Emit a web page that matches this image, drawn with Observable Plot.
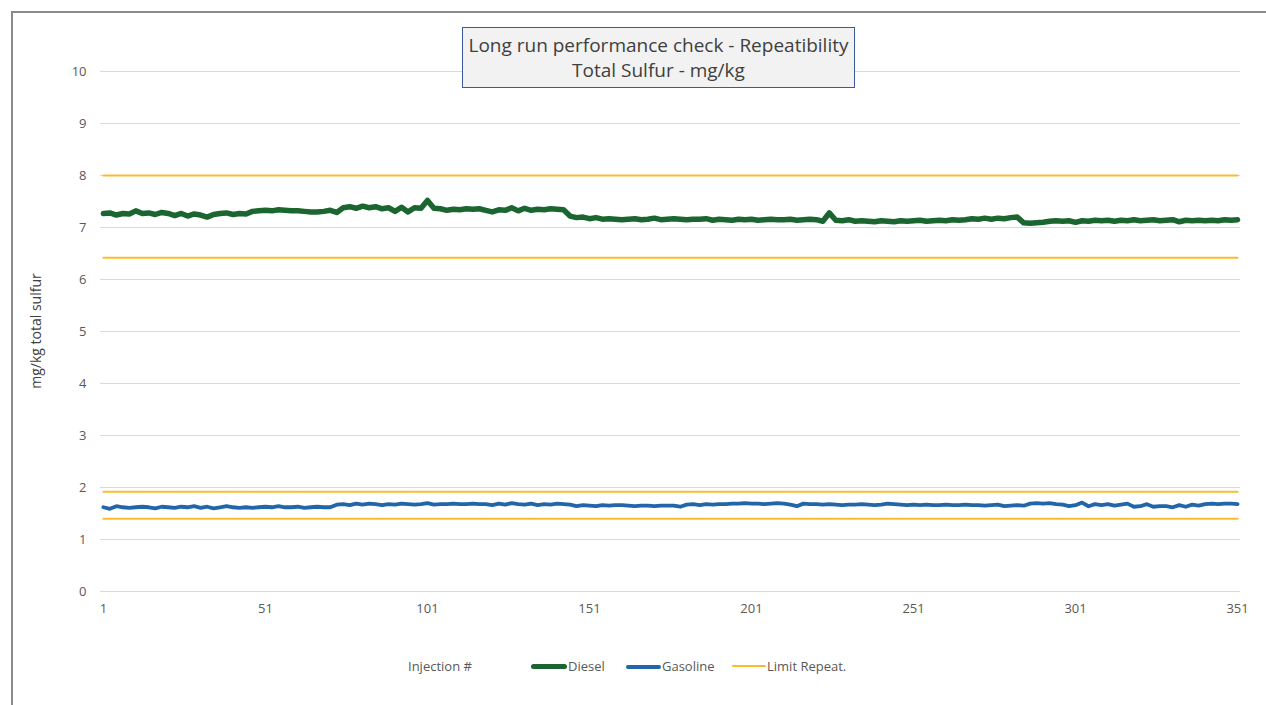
<!DOCTYPE html>
<html>
<head>
<meta charset="utf-8">
<script src="https://cdn.jsdelivr.net/npm/d3@7"></script>
<script src="https://cdn.jsdelivr.net/npm/@observablehq/plot@0.6"></script>
<style>
  html, body { margin: 0; padding: 0; background: #fff; width: 1266px; height: 705px; overflow: hidden; }
  body { position: relative; font-family: "Open Sans", "Liberation Sans", sans-serif; }
  #frame { position: absolute; left: 11px; top: 11px; width: 1300px; height: 750px; border-left: 2px solid #8a8a8a; border-top: 2px solid #8a8a8a; }
  #chart { position: absolute; left: 0; top: 0; }
  #title { position: absolute; left: 462px; top: 27px; width: 393px; height: 61px; background: #f2f2f2; border: 1px solid #3c5a99;
           color: #404040; font-size: 19px; line-height: 25px; text-align: center; padding-top: 5px; box-sizing: border-box; font-family: "Open Sans", sans-serif; }
  #ylabel { position: absolute; left: 35px; top: 331px; transform: translate(-50%, -50%) rotate(-90deg); font-size: 14px; color: #404040; white-space: nowrap; }
  .leg { position: absolute; top: 657px; font-size: 13px; color: #595959; white-space: nowrap; }
  .sw { position: absolute; border-radius: 3px; }
</style>
</head>
<body>
<div id="frame"></div>
<div id="chart"></div>
<div id="title">Long run performance check - Repeatibility<br>Total Sulfur - mg/kg</div>
<div id="ylabel">mg/kg total sulfur</div>
<div class="leg" style="left:408px">Injection #</div>
<div class="sw" style="left:531px; top:664px; width:36px; height:5px; background:#1b6531"></div>
<div class="leg" style="left:568px">Diesel</div>
<div class="sw" style="left:626px; top:665px; width:35px; height:3.5px; background:#2166a8"></div>
<div class="leg" style="left:662px">Gasoline</div>
<div class="sw" style="left:732px; top:665px; width:34px; height:2px; background:#fbbc2b"></div>
<div class="leg" style="left:767px">Limit Repeat.</div>
<script>
// Injection numbers (every 2nd injection, 1..351)
const injections = d3.range(1, 352, 2);

const diesel = [
  7.27,7.28,7.24,7.27,7.26,7.32,7.27,7.28,7.25,7.29,
  7.27,7.23,7.27,7.22,7.26,7.24,7.20,7.25,7.27,7.28,
  7.25,7.27,7.26,7.31,7.32,7.33,7.32,7.34,7.33,7.32,
  7.32,7.31,7.30,7.30,7.31,7.33,7.29,7.38,7.40,7.37,
  7.41,7.38,7.40,7.36,7.38,7.31,7.39,7.30,7.38,7.37,
  7.52,7.37,7.36,7.33,7.35,7.34,7.36,7.35,7.36,7.33,
  7.30,7.34,7.33,7.38,7.32,7.37,7.33,7.35,7.34,7.36,
  7.35,7.34,7.22,7.19,7.20,7.17,7.19,7.16,7.17,7.16,
  7.15,7.16,7.17,7.15,7.16,7.18,7.15,7.16,7.17,7.16,
  7.15,7.16,7.16,7.17,7.14,7.16,7.15,7.14,7.16,7.15,
  7.16,7.14,7.15,7.16,7.15,7.15,7.16,7.14,7.15,7.16,
  7.15,7.12,7.28,7.14,7.13,7.15,7.12,7.13,7.12,7.11,
  7.13,7.12,7.11,7.13,7.12,7.13,7.14,7.12,7.13,7.14,
  7.13,7.15,7.14,7.15,7.17,7.16,7.18,7.16,7.18,7.17,
  7.19,7.20,7.09,7.08,7.09,7.10,7.12,7.13,7.12,7.13,
  7.10,7.13,7.12,7.14,7.13,7.14,7.12,7.14,7.13,7.15,
  7.13,7.14,7.15,7.13,7.14,7.15,7.11,7.14,7.13,7.14,
  7.13,7.14,7.13,7.15,7.14,7.15
];

const gasoline = [
  1.62,1.59,1.64,1.62,1.61,1.62,1.63,1.62,1.60,1.63,
  1.62,1.61,1.63,1.62,1.64,1.61,1.63,1.60,1.62,1.64,
  1.62,1.61,1.62,1.61,1.62,1.63,1.62,1.64,1.62,1.62,
  1.63,1.61,1.62,1.63,1.62,1.62,1.67,1.68,1.66,1.69,
  1.67,1.69,1.68,1.66,1.68,1.67,1.69,1.68,1.67,1.68,
  1.70,1.67,1.68,1.68,1.69,1.68,1.68,1.69,1.68,1.68,
  1.66,1.69,1.67,1.70,1.68,1.67,1.69,1.66,1.68,1.67,
  1.69,1.68,1.67,1.64,1.66,1.65,1.64,1.66,1.65,1.66,
  1.66,1.65,1.64,1.65,1.65,1.64,1.65,1.65,1.65,1.63,
  1.67,1.68,1.66,1.68,1.67,1.68,1.68,1.69,1.69,1.70,
  1.69,1.69,1.68,1.69,1.70,1.69,1.67,1.64,1.69,1.68,
  1.68,1.67,1.68,1.67,1.66,1.67,1.67,1.68,1.67,1.66,
  1.67,1.69,1.68,1.67,1.66,1.67,1.66,1.67,1.66,1.66,
  1.67,1.66,1.66,1.67,1.66,1.66,1.65,1.66,1.67,1.64,
  1.65,1.66,1.65,1.69,1.70,1.69,1.70,1.68,1.67,1.64,
  1.66,1.71,1.64,1.68,1.66,1.68,1.65,1.67,1.69,1.63,
  1.64,1.68,1.63,1.64,1.64,1.62,1.66,1.63,1.67,1.65,
  1.68,1.69,1.68,1.69,1.69,1.68
];

// Repeatability limits (upper/lower for diesel and gasoline)
const limits = [8.0, 6.42, 1.92, 1.40];
const xTicks = [1, 51, 101, 151, 201, 251, 301, 351];
const yTicks = [0, 1, 2, 3, 4, 5, 6, 7, 8, 9, 10];

const dieselData = injections.map((x, i) => ({x, y: diesel[i]}));
const gasData = injections.map((x, i) => ({x, y: gasoline[i]}));
const limitData = limits.flatMap((v, k) => [{x: 1, y: v, k}, {x: 351, y: v, k}]);

const chart = Plot.plot({
  width: 1266,
  height: 620,
  marginLeft: 100,
  marginRight: 26,
  marginTop: 71,
  marginBottom: 29,
  style: {fontFamily: "'Open Sans', sans-serif", fontSize: "13px", color: "#595959", background: "transparent"},
  x: {domain: [0.1, 351.9], label: null},
  y: {domain: [0, 10], label: null},
  marks: [
    Plot.gridY(yTicks, {stroke: "#d9d9d9", strokeOpacity: 1, strokeWidth: 1}),
    Plot.axisX(xTicks, {tickSize: 0, tickPadding: 12, fontSize: 13, fill: "#595959", tickFormat: d => String(d), label: null}),
    Plot.axisY(yTicks, {tickSize: 0, tickPadding: 14, fontSize: 13, fill: "#595959", tickFormat: d => String(d), label: null}),
    Plot.line(dieselData, {x: "x", y: "y", stroke: "#1b6531", strokeWidth: 5.5, strokeLinejoin: "round", strokeLinecap: "round"}),
    Plot.line(gasData, {x: "x", y: "y", stroke: "#2166a8", strokeWidth: 3.8, strokeLinejoin: "round", strokeLinecap: "round"}),
    Plot.line(limitData, {x: "x", y: "y", z: "k", stroke: "#fbbc2b", strokeWidth: 2})
  ]
});
document.getElementById("chart").appendChild(chart);
</script>
</body>
</html>
